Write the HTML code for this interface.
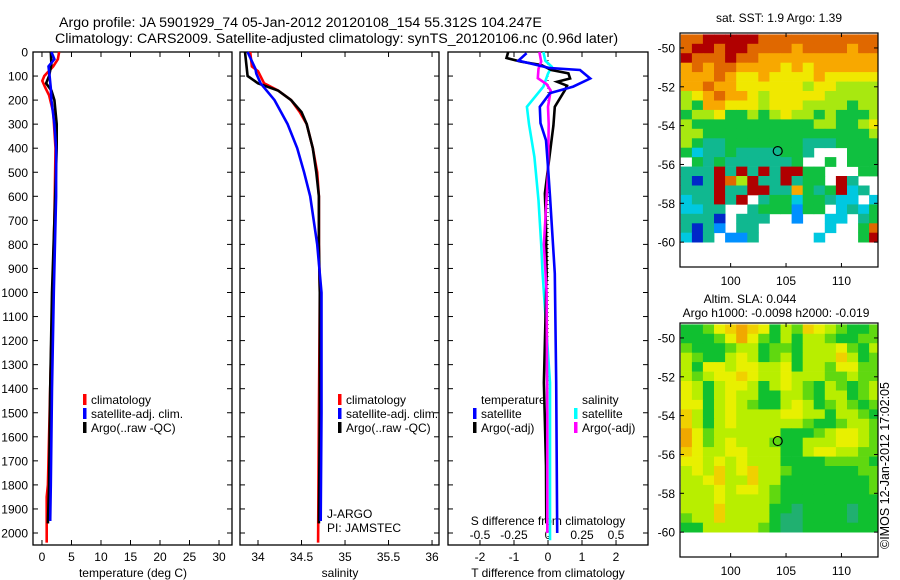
<!DOCTYPE html>
<html><head><meta charset="utf-8">
<style>
html,body{margin:0;padding:0;background:#fff;}
svg{display:block;font-family:"Liberation Sans",sans-serif;}
text{fill:#000;}
</style></head>
<body>
<svg id="fig" width="900" height="580" viewBox="0 0 900 580" xmlns="http://www.w3.org/2000/svg">
<text x="59" y="27" font-size="14.2">Argo profile: JA 5901929_74 05-Jan-2012 20120108_154 55.312S 104.247E</text>
<text x="55" y="43" font-size="14.2">Climatology: CARS2009. Satellite-adjusted climatology: synTS_20120106.nc (0.96d later)</text>
<g id="p1"></g>
<g id="p2"></g>
<g id="p3"></g>
<g id="m1"></g>
<g id="m2"></g>
<text transform="translate(889,549) rotate(-90)" font-size="12.5">©IMOS 12-Jan-2012 17:02:05</text>
</svg>
<script>
// ---------- data ----------
const depthTicks = [0,100,200,300,400,500,600,700,800,900,1000,1100,1200,1300,1400,1500,1600,1700,1800,1900,2000];
// temperature panel
const tClimDepth = [0,30,60,100,120,150,180,250,400,700,1000,1400,1800,1850,2040];
const tClimVal   = [2.9,2.7,1.9,0.4,0.05,0.6,1.2,1.9,2.3,2.1,1.8,1.4,1.0,0.8,0.8];
const tSatDepth  = [0,30,60,100,150,200,300,400,600,1000,1400,1800,1950];
const tSatVal    = [1.6,2.1,1.1,1.3,1.5,1.6,2.1,2.4,2.4,2.0,1.7,1.5,1.4];
const tArgoDepth = [0,50,100,130,160,200,300,400,700,1000,1400,1800,1960];
const tArgoVal   = [1.5,1.6,1.2,0.7,1.6,2.1,2.5,2.5,2.1,1.7,1.4,1.2,1.0];
const tTicks = [0,5,10,15,20,25,30];
// salinity panel
const sClimDepth = [0,60,80,130,160,200,250,300,400,500,600,800,1000,1500,2040];
const sClimVal   = [33.91,33.93,34.0,34.07,34.23,34.38,34.48,34.56,34.63,34.68,34.70,34.70,34.71,34.70,34.69];
const sSatDepth  = [0,70,90,130,200,300,400,500,600,800,1000,1500,1950];
const sSatVal    = [33.88,33.97,33.98,34.03,34.19,34.34,34.45,34.53,34.60,34.68,34.73,34.73,34.72];
const sArgoDepth = [0,100,130,160,200,250,300,400,500,600,800,1000,1500,1960];
const sArgoVal   = [33.85,33.88,34.0,34.23,34.38,34.5,34.56,34.63,34.67,34.70,34.70,34.71,34.71,34.70];
const sTicks = [34,34.5,35,35.5,36];
const sTickLabels = ["34","34.5","35","35.5","36"];
// difference panel
const dTSatDepth = [5,36,67,75,110,144,171,228,296,367,478,600,921,1375,2000];
const dTSatVal   = [-0.63,-0.87,0.06,0.94,1.24,0.74,0.06,-0.24,-0.22,-0.06,0.0,0.06,0.2,0.24,0.27];
const dTArgoDepth = [0,25,40,54,75,89,110,124,140,158,228,306,394,588,728,921,1375,1720,1960];
const dTArgoVal   = [-1.17,-1.22,-0.8,-0.2,0.1,0.6,0.65,0.27,0.56,0.5,0.2,0.16,0.08,-0.09,-0.06,-0.04,-0.12,-0.06,-0.05];
const dSSatDepth = [0,36,61,90,144,228,300,436,617,800,921,1375,2030];
const dSSatVal   = [-0.034,-0.02,0.027,0.0,-0.034,-0.155,-0.14,-0.1,-0.07,-0.05,-0.04,0.015,0.015];
const dSArgoDepth = [0,40,70,109,134,160,228,300,506,800,1000,1500,2000];
const dSArgoVal   = [-0.063,-0.05,-0.07,-0.075,-0.01,0.02,0.0,0.005,0.0,-0.03,-0.01,-0.005,-0.005];
const dTTicks = [-2,-1,0,1,2];
const dSTicks = [-0.5,-0.25,0,0.25,0.5];
const dSTickLabels = ["-0.5","-0.25","0","0.25","0.5"];
// maps (22 rows from -49.3 to -60, 18 cols of 1 deg from 95.5)
const sstRows = [
"99aaaaa99999999999a","9aa9aa99998999989 9","a999a998888888888 8","898998888787888888",
"888987787777877777","889887777776776666","678988767777766666","658877767776666566",
"566755656766565556","655555555555665567","665555555555555556","654455555554445555",
"534454444554000555","054544444450050555","444a4a4a4aa55000555","414a96a44a4550a400",
"444a44aa448545a340","344a4a04553554330 3","33440045552550343 5","4441044400200330 45",
"41420440000003005 9","3140224000003000 5a"];
const slaRows = [
"223567652436543223","222357532424432233","322234423324445324","432245423424446423",
"425545544524435533","434556544544433433","542455424543243234","542454422443244234",
"552454322454234323","642454444554424432","642454444443223443","753444444222345543",
"753454443224445543","654455444224554433","554545444222233332","454645644322222233",
"445644644222222223","444545543222222223","444544443222222222","444644442212222122",
"344644442112222122","224444432112222222"];
const sstColors = {"0":null,"1":"#0028c8","2":"#0090ff","3":"#00c8e0","4":"#10b890","5":"#10c040","6":"#a8e810","7":"#f0e800","8":"#f8a800","9":"#e06800","a":"#b00000"};
const slaColors = {"1":"#20b070","2":"#10c030","3":"#60d810","4":"#b8ee00","5":"#e8f000","6":"#f0d000","7":"#f0a800"};
const latTicks = [-50,-52,-54,-56,-58,-60];
const lonTicks = [100,105,110];
const argoLon = 104.25, argoLat = -55.31;

// ---------- helpers ----------
const NS="http://www.w3.org/2000/svg";
function mk(parent,tag,attrs,txt){const e=document.createElementNS(NS,tag);for(const k in attrs)e.setAttribute(k,attrs[k]);if(txt!==undefined)e.textContent=txt;parent.appendChild(e);return e;}
const Y0=52, Y1=545, dScale=0.2405;
function yD(d){return Y0+d*dScale;}

function panel(g,x0,x1,xmin,xmax){
  const sx=v=>x0+(v-xmin)/(xmax-xmin)*(x1-x0);
  return sx;
}
function frame(g,x0,x1,name){
  const r=mk(g,'rect',{x:x0,y:Y0,width:x1-x0,height:Y1-Y0,fill:'none',stroke:'#000','stroke-width':1.3});
  
  
  depthTicks.forEach(d=>{
    mk(g,'line',{x1:x0,x2:x0+5,y1:yD(d),y2:yD(d),stroke:'#000','stroke-width':1});
    mk(g,'line',{x1:x1,x2:x1-5,y1:yD(d),y2:yD(d),stroke:'#000','stroke-width':1});
  });
}
function series(g,sx,depths,vals,color,name){
  let pts=[];
  for(let i=0;i<depths.length;i++){pts.push(sx(vals[i]).toFixed(1)+','+yD(depths[i]).toFixed(1));}
  const p=mk(g,'polyline',{points:pts.join(' '),fill:'none',stroke:color,'stroke-width':2.6,'stroke-linejoin':'miter'});
  
  
}
function legendEntry(g,x,y,color,label,name){
  const e=mk(g,'g',{});
  
  
  mk(e,'rect',{x:x,y:y-10,width:3.5,height:11,fill:color});
  mk(e,'text',{x:x+8,y:y,'font-size':12},label);
}

// ---------- panel 1: temperature ----------
(function(){
  const g=document.getElementById('p1');
  const x0=33,x1=232;
  const sx=panel(g,x0,x1,-1.52,32.2);
  frame(g,x0,x1,'temperature-panel');
  depthTicks.forEach(d=>{
    const t=mk(g,'text',{x:28,y:yD(d)+4.5,'font-size':12,'text-anchor':'end'},String(d));
    
    
  });
  tTicks.forEach(v=>{
    mk(g,'line',{x1:sx(v),x2:sx(v),y1:Y1,y2:Y1-5,stroke:'#000'});
    mk(g,'line',{x1:sx(v),x2:sx(v),y1:Y0,y2:Y0+5,stroke:'#000'});
    const t=mk(g,'text',{x:sx(v),y:561,'font-size':12,'text-anchor':'middle'},String(v));
    
    
  });
  const xl=mk(g,'text',{x:133,y:577,'font-size':12,'text-anchor':'middle'},'temperature (deg C)');
  
  
  series(g,sx,tClimDepth,tClimVal,'#ff0000','temperature-climatology-line');
  series(g,sx,tArgoDepth,tArgoVal,'#000000','temperature-argo-line');
  series(g,sx,tSatDepth,tSatVal,'#0000ff','temperature-satellite-line');
  legendEntry(g,83,404,'#ff0000','climatology','legend-climatology');
  legendEntry(g,83,418,'#0000ff','satellite-adj. clim.','legend-satellite-adj');
  legendEntry(g,83,432,'#000000','Argo(..raw -QC)','legend-argo');
})();

// ---------- panel 2: salinity ----------
(function(){
  const g=document.getElementById('p2');
  const x0=240,x1=439;
  const sx=panel(g,x0,x1,33.793,36.08);
  frame(g,x0,x1,'salinity-panel');
  sTicks.forEach((v,i)=>{
    mk(g,'line',{x1:sx(v),x2:sx(v),y1:Y1,y2:Y1-5,stroke:'#000'});
    mk(g,'line',{x1:sx(v),x2:sx(v),y1:Y0,y2:Y0+5,stroke:'#000'});
    const t=mk(g,'text',{x:sx(v),y:561,'font-size':12,'text-anchor':'middle'},sTickLabels[i]);
    
    
  });
  const xl=mk(g,'text',{x:340,y:577,'font-size':12,'text-anchor':'middle'},'salinity');
  
  
  series(g,sx,sClimDepth,sClimVal,'#ff0000','salinity-climatology-line');
  series(g,sx,sArgoDepth,sArgoVal,'#000000','salinity-argo-line');
  series(g,sx,sSatDepth,sSatVal,'#0000ff','salinity-satellite-line');
  legendEntry(g,338,404,'#ff0000','climatology','legend-climatology');
  legendEntry(g,338,418,'#0000ff','satellite-adj. clim.','legend-satellite-adj');
  legendEntry(g,338,432,'#000000','Argo(..raw -QC)','legend-argo');
  const a=mk(g,'text',{x:327,y:518,'font-size':12},'J-ARGO');
  
  
  const b=mk(g,'text',{x:327,y:532,'font-size':12},'PI: JAMSTEC');
  
  
})();

// ---------- panel 3: differences ----------
(function(){
  const g=document.getElementById('p3');
  const x0=448,x1=648;
  const sxT=panel(g,x0,x1,-2.94,2.94);
  const sxS=v=>sxT(v*4);
  frame(g,x0,x1,'difference-panel');
  mk(g,'line',{x1:sxT(0),x2:sxT(0),y1:Y0,y2:Y1,stroke:'#000','stroke-width':1,'stroke-dasharray':'1,3'});
  dTTicks.forEach(v=>{
    mk(g,'line',{x1:sxT(v),x2:sxT(v),y1:Y1,y2:Y1-5,stroke:'#000'});
    const t=mk(g,'text',{x:sxT(v),y:561,'font-size':12,'text-anchor':'middle'},String(v));
    
    
  });
  dSTicks.forEach((v,i)=>{
    mk(g,'line',{x1:sxS(v),x2:sxS(v),y1:Y0,y2:Y0+5,stroke:'#000'});
    const t=mk(g,'text',{x:sxS(v),y:539,'font-size':12,'text-anchor':'middle'},dSTickLabels[i]);
    
    
  });
  const s=mk(g,'text',{x:548,y:525,'font-size':12,'text-anchor':'middle'},'S difference from climatology');
  
  
  const xl=mk(g,'text',{x:548,y:577,'font-size':12,'text-anchor':'middle'},'T difference from climatology');
  
  
  series(g,sxS,dSSatDepth,dSSatVal,'#00ffff','s-satellite-diff-line');
  series(g,sxT,dTArgoDepth,dTArgoVal,'#000000','t-argo-diff-line');
  series(g,sxS,dSArgoDepth,dSArgoVal,'#ff00ff','s-argo-diff-line');
  series(g,sxT,dTSatDepth,dTSatVal,'#0000ff','t-satellite-diff-line');
  const lt=mk(g,'text',{x:481,y:404,'font-size':12},'temperature');
  
  
  const ls=mk(g,'text',{x:582,y:404,'font-size':12},'salinity');
  
  
  legendEntry(g,473,418,'#0000ff','satellite','legend-t-satellite');
  legendEntry(g,473,432,'#000000','Argo(-adj)','legend-t-argo');
  legendEntry(g,574,418,'#00ffff','satellite','legend-s-satellite');
  legendEntry(g,574,432,'#ff00ff','Argo(-adj)','legend-s-argo');
})();

// ---------- maps ----------
function drawMap(gid,top,rows,colors,name){
  const g=document.getElementById(gid);
  const x0=680,x1=878,y1b=top+234;
  const lon0=95.43,lon1=113.3;
  const latTop=-49.23,latBot=-61.28;
  const lx=v=>x0+(v-lon0)/(lon1-lon0)*(x1-x0);
  const ly=v=>top+(v-latTop)/(latBot-latTop)*(y1b-top);
  const rowH=(-49.3-(-60))/rows.length;
  const cells=mk(g,'g',{});
  
  
  rows.forEach((row,ri)=>{
    const s=row.replace(/ /g,'');
    const la=-49.3-ri*rowH;
    for(let ci=0;ci<18;ci++){
      const c=colors[s[ci]];
      if(!c) continue;
      const lo=95.5+ci;
      const xa=Math.max(lx(lo),x0), xb=Math.min(lx(lo+1),x1);
      const ya=ly(la);
      const r=mk(cells,'rect',{x:xa.toFixed(1),y:ya.toFixed(1),width:(xb-xa+0.4).toFixed(1),height:(ly(la-rowH)-ya+0.4).toFixed(1),fill:c});
      
      
    }
  });
  mk(g,'rect',{x:x0,y:top,width:x1-x0,height:y1b-top,fill:'none',stroke:'#000','stroke-width':1.2});
  latTicks.forEach(v=>{
    mk(g,'line',{x1:x0,x2:x0+4,y1:ly(v),y2:ly(v),stroke:'#000'});
    mk(g,'line',{x1:x1,x2:x1-4,y1:ly(v),y2:ly(v),stroke:'#000'});
    const t=mk(g,'text',{x:x0-5,y:ly(v)+4.5,'font-size':12,'text-anchor':'end'},String(v));
    
    
  });
  lonTicks.forEach(v=>{
    mk(g,'line',{x1:lx(v),x2:lx(v),y1:top,y2:top+4,stroke:'#000'});
    mk(g,'line',{x1:lx(v),x2:lx(v),y1:y1b,y2:y1b-4,stroke:'#000'});
    const t=mk(g,'text',{x:lx(v),y:y1b+18,'font-size':12,'text-anchor':'middle'},String(v));
    
    
  });
  const m=mk(g,'circle',{cx:lx(argoLon),cy:ly(argoLat),r:4.5,fill:'none',stroke:'#000','stroke-width':1.2});
  
  
}
drawMap('m1',33,sstRows,sstColors,'sst-map');
drawMap('m2',323,slaRows,slaColors,'sla-map');
(function(){
  const g1=document.getElementById('m1');
  const t=mk(g1,'text',{x:779,y:22,'font-size':12,'text-anchor':'middle'},'sat. SST: 1.9 Argo: 1.39');
  
  
  const g2=document.getElementById('m2');
  const a=mk(g2,'text',{x:750,y:303,'font-size':12,'text-anchor':'middle'},'Altim. SLA: 0.044');
  
  
  const b=mk(g2,'text',{x:776,y:317,'font-size':12,'text-anchor':'middle'},'Argo h1000: -0.0098 h2000: -0.019');
  
  
})();
</script>
</body></html>
